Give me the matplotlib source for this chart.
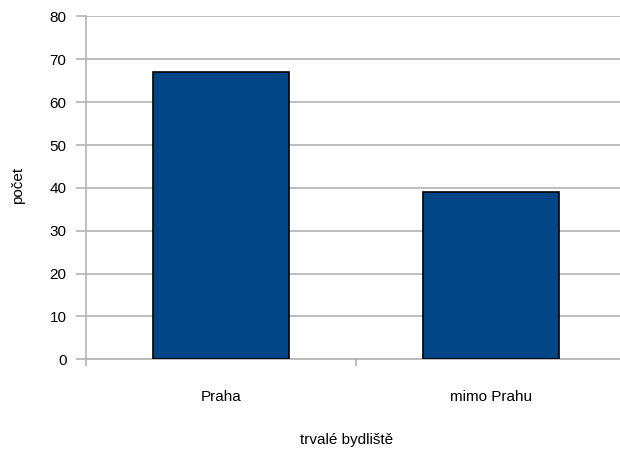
import matplotlib
import matplotlib.pyplot as plt

matplotlib.use("Agg")

categories = ["Praha", "mimo Prahu"]
counts = [67, 39]
yTicks = [0, 10, 20, 30, 40, 50, 60, 70, 80]

plt.rcParams["font.family"] = ["Liberation Sans", "DejaVu Sans"]

fig = plt.figure(figsize=(6.2, 4.53), dpi=100)
ax = fig.add_axes([0.1387, 0.2068, 0.871, 0.7568])

gridGray = "#b3b3b3"
xs = list(range(len(categories)))
ax.bar(xs, counts, width=0.507, color="#004586", edgecolor="black", linewidth=1.2, zorder=3)

ax.set_xlim(-0.5, len(categories) - 0.5)
ax.set_ylim(0, 80)
ax.set_yticks(yTicks)
ax.yaxis.grid(True, color=gridGray, linewidth=1.2, zorder=0)

# hranice kategorií jako hlavní ticky, popisky na středech
ax.set_xticks([i - 0.5 for i in range(len(categories) + 1)])
ax.set_xticklabels([])
ax.set_xticks(xs, minor=True)
ax.set_xticklabels(categories, minor=True, fontsize=11)
ax.tick_params(axis="x", which="major", length=5, width=1.2, color=gridGray)
ax.tick_params(axis="x", which="minor", length=0, pad=22)
ax.tick_params(axis="y", length=7, width=1.2, color=gridGray, labelsize=11, pad=7)

for side in ["top", "right"]:
    ax.spines[side].set_visible(False)
for side in ["left", "bottom"]:
    ax.spines[side].set_color(gridGray)
    ax.spines[side].set_linewidth(1.2)

ax.set_xlabel("trvalé bydliště", fontsize=11)
ax.set_ylabel("počet", fontsize=11)
ax.xaxis.set_label_coords(0.483, -0.215)
ax.yaxis.set_label_coords(-0.113, 0.507)

fig.savefig("out.png", dpi=100)
